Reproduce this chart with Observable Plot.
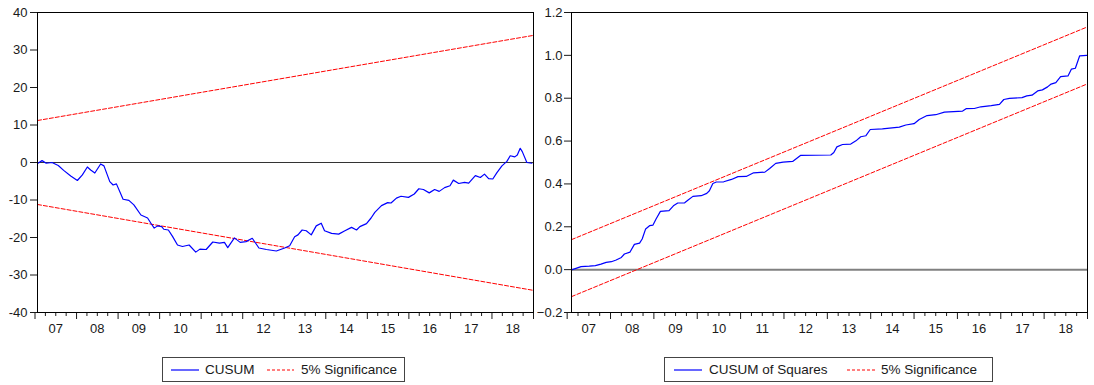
<!DOCTYPE html>
<html><head><meta charset="utf-8">
<script src="https://cdn.jsdelivr.net/npm/d3@7"></script>
<script src="https://cdn.jsdelivr.net/npm/@observablehq/plot@0.6"></script>
<style>
body{margin:0;background:#fff;font-family:"Liberation Sans",Arial,sans-serif;}
#wrap{position:relative;width:1094px;height:385px;overflow:hidden;}
#left{position:absolute;left:0;top:0}
#right{position:absolute;left:537px;top:0}
.legend{position:absolute;top:357px;height:25px;border:1px solid #444;box-sizing:border-box;font-size:13.5px;color:#1a1a1a;}
.legend span{position:absolute;top:4px;white-space:nowrap;}
.legend svg{position:absolute;top:0;left:0;}
</style>
</head><body>
<div id="wrap">
  <div id="left"></div>
  <div id="right"></div>
  <div class="legend" id="legL" style="left:162px;width:243px"></div>
  <div class="legend" id="legR" style="left:664px;width:329px"></div>
</div>
<script>
// ---- data ----
const years = [2007,2008,2009,2010,2011,2012,2013,2014,2015,2016,2017,2018];
const yearLabels = ["07","08","09","10","11","12","13","14","15","16","17","18"];

const cusumT = [2007.07,2007.17,2007.27,2007.41,2007.56,2007.69,2007.86,2008.02,2008.14,2008.26,2008.34,2008.44,2008.58,2008.66,2008.80,2008.88,2008.96,2009.12,2009.26,2009.38,2009.55,2009.71,2009.79,2009.87,2009.95,2010.05,2010.10,2010.21,2010.31,2010.43,2010.55,2010.71,2010.87,2010.97,2011.12,2011.28,2011.44,2011.56,2011.64,2011.80,2011.94,2012.08,2012.23,2012.39,2012.57,2012.81,2013.01,2013.13,2013.25,2013.33,2013.43,2013.53,2013.65,2013.77,2013.89,2013.97,2014.14,2014.31,2014.46,2014.62,2014.74,2014.82,2014.98,2015.09,2015.18,2015.34,2015.49,2015.57,2015.70,2015.81,2015.99,2016.13,2016.24,2016.35,2016.49,2016.62,2016.73,2016.86,2016.99,2017.07,2017.20,2017.34,2017.44,2017.60,2017.72,2017.82,2017.92,2018.02,2018.12,2018.24,2018.36,2018.44,2018.55,2018.61,2018.68,2018.73,2018.84,2018.96];
const cusumV = [-0.2,0.5,-0.2,0,-0.8,-2.1,-3.6,-4.8,-3.3,-1.2,-2.0,-2.8,-0.4,-0.9,-5.1,-6.0,-5.7,-9.8,-10.1,-11.3,-14.0,-14.8,-16.2,-17.5,-16.9,-17.1,-17.8,-18.0,-19.7,-22.0,-22.4,-22.0,-23.9,-23.1,-23.2,-21.2,-21.5,-21.3,-22.7,-20.1,-21.3,-21.1,-20.2,-22.8,-23.2,-23.6,-22.8,-22.2,-19.8,-19.3,-18.0,-18.2,-19.3,-16.9,-16.2,-18.2,-18.9,-19.1,-18.2,-17.3,-18.0,-17.1,-16.3,-14.8,-13.3,-11.5,-10.7,-10.8,-9.5,-9.0,-9.3,-8.4,-7.0,-7.2,-8.1,-7.2,-7.7,-6.7,-6.2,-4.7,-5.6,-5.3,-5.5,-3.5,-4.0,-3.1,-4.3,-4.4,-2.7,-0.9,0.3,1.8,1.5,2.0,3.8,2.9,0,-0.2];

const cusumSqT = [2007.12,2007.32,2007.51,2007.65,2007.78,2007.90,2008.02,2008.13,2008.25,2008.32,2008.45,2008.55,2008.67,2008.73,2008.81,2008.90,2008.98,2009.05,2009.15,2009.35,2009.45,2009.55,2009.71,2009.79,2009.90,2010.09,2010.22,2010.28,2010.36,2010.44,2010.61,2010.79,2010.94,2011.13,2011.30,2011.56,2011.67,2011.81,2011.98,2012.20,2012.38,2013.08,2013.15,2013.22,2013.35,2013.54,2013.66,2013.77,2013.89,2013.99,2014.27,2014.66,2014.81,2015.00,2015.12,2015.30,2015.50,2015.70,2016.12,2016.20,2016.39,2016.54,2016.78,2016.97,2017.07,2017.20,2017.49,2017.60,2017.72,2017.85,2017.96,2018.08,2018.16,2018.27,2018.38,2018.55,2018.63,2018.72,2018.82,2018.98];
const cusumSqV = [0,0.014,0.016,0.019,0.026,0.034,0.037,0.045,0.057,0.073,0.082,0.118,0.124,0.143,0.190,0.205,0.208,0.236,0.272,0.275,0.298,0.311,0.312,0.325,0.342,0.345,0.356,0.368,0.402,0.409,0.410,0.421,0.434,0.435,0.452,0.455,0.472,0.496,0.502,0.505,0.533,0.535,0.547,0.573,0.584,0.586,0.601,0.620,0.625,0.654,0.657,0.665,0.675,0.681,0.701,0.719,0.723,0.735,0.740,0.751,0.752,0.760,0.765,0.771,0.794,0.799,0.803,0.811,0.814,0.834,0.839,0.853,0.866,0.873,0.901,0.904,0.936,0.940,0.998,1.0];

const sigTL = [2007.06, 2019.0];
const cusumUpper = [11.2, 33.9];
const cusumLower = [-11.2, -34.1];
const sigTR = [2007.10, 2019.0];
const sqUpper = [0.14, 1.133];
const sqLower = [-0.126, 0.867];

const yTicksL = [-40,-30,-20,-10,0,10,20,30,40];
const yTicksR = [-0.2,0,0.2,0.4,0.6,0.8,1.0,1.2];

// ---- helpers ----
const pts = (T, V) => T.map((t, i) => ({t, v: V[i]}));
const majorTicks = years.concat([years[years.length-1] + 1]);
const minorTicks = years.flatMap(y => [y + 0.25, y + 0.5, y + 0.75]);
const midTicks = years.map(y => y + 0.5);
const labelOf = d => yearLabels[years.indexOf(Math.floor(d))];
const BLUE = "#0000ff", RED = "#ff0000";
const style = {fontSize: "13px", fontFamily: "'Liberation Sans', Arial, sans-serif", color: "#1a1a1a", background: "#fff"};

function xAxes() {
  return [
    Plot.axisX(minorTicks, {tickSize: 4, tickFormat: () => "", label: null}),
    Plot.axisX(majorTicks, {tickSize: 7, tickFormat: () => "", label: null}),
    Plot.axisX(midTicks, {tickSize: 0, tickPadding: 11, tickFormat: labelOf, label: null})
  ];
}

const left = Plot.plot({
  width: 537, height: 340,
  marginLeft: 37, marginRight: 4, marginTop: 12, marginBottom: 28,
  style,
  x: {domain: [sigTL[0], sigTL[1]], label: null},
  y: {domain: [-40, 40], label: null},
  marks: [
    Plot.ruleY([0], {stroke: "#333", strokeWidth: 1}),
    Plot.line(pts(sigTL, cusumUpper), {x: "t", y: "v", stroke: RED, strokeWidth: 1, strokeDasharray: "4,2"}),
    Plot.line(pts(sigTL, cusumLower), {x: "t", y: "v", stroke: RED, strokeWidth: 1, strokeDasharray: "4,2"}),
    Plot.line(pts(cusumT, cusumV), {x: "t", y: "v", stroke: BLUE, strokeWidth: 1.2, curve: "linear"}),
    Plot.axisY(yTicksL, {tickSize: 7, tickPadding: 3, tickFormat: d => String(d), label: null}),
    ...xAxes(),
    Plot.frame({stroke: "#000", strokeWidth: 1})
  ]
});
document.getElementById("left").appendChild(left);

const right = Plot.plot({
  width: 557, height: 340,
  marginLeft: 34, marginRight: 7, marginTop: 12, marginBottom: 28,
  style,
  x: {domain: [sigTR[0], sigTR[1]], label: null},
  y: {domain: [-0.2, 1.2], label: null},
  marks: [
    Plot.ruleY([0], {stroke: "#808080", strokeWidth: 2}),
    Plot.line(pts(sigTR, sqUpper), {x: "t", y: "v", stroke: RED, strokeWidth: 1, strokeDasharray: "4,2"}),
    Plot.line(pts(sigTR, sqLower), {x: "t", y: "v", stroke: RED, strokeWidth: 1, strokeDasharray: "4,2"}),
    Plot.line(pts(cusumSqT, cusumSqV), {x: "t", y: "v", stroke: BLUE, strokeWidth: 1.2}),
    Plot.axisY(yTicksR, {tickSize: 7, tickPadding: 2, tickFormat: d3.format(".1f"), label: null}),
    ...xAxes(),
    Plot.frame({stroke: "#000", strokeWidth: 1})
  ]
});
document.getElementById("right").appendChild(right);

// ---- legends ----
function legend(el, items) {
  const w = el.clientWidth;
  let html = `<svg width="${w}" height="25">`;
  for (const it of items) {
    html += `<line x1="${it.x1}" x2="${it.x2}" y1="12" y2="12" stroke="${it.color}" stroke-width="1.2" ${it.dash ? 'stroke-dasharray="3,2"' : ''}/>`;
  }
  html += `</svg>`;
  for (const it of items) html += `<span style="left:${it.tx}px">${it.label}</span>`;
  el.innerHTML = html;
}
legend(document.getElementById("legL"), [
  {x1: 8, x2: 36, color: BLUE, dash: false, tx: 42, label: "CUSUM"},
  {x1: 104, x2: 131, color: RED, dash: true, tx: 138, label: "5% Significance"}
]);
legend(document.getElementById("legR"), [
  {x1: 9, x2: 37, color: BLUE, dash: false, tx: 44, label: "CUSUM of Squares"},
  {x1: 182, x2: 210, color: RED, dash: true, tx: 216, label: "5% Significance"}
]);
</script>
</body></html>
